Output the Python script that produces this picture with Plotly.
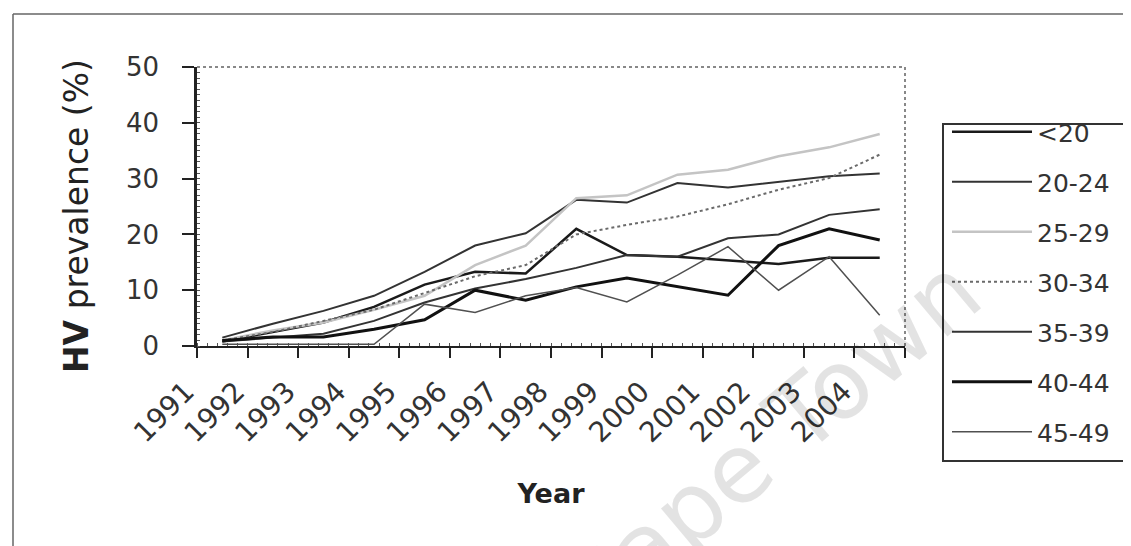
import plotly.graph_objects as go

years = ["1991", "1992", "1993", "1994", "1995", "1996", "1997",
         "1998", "1999", "2000", "2001", "2002", "2003", "2004"]

under20 = [0.8, 2.5, 4.2, 7.0, 11.0, 13.3, 13.0, 21.0, 16.3, 16.0, 15.3, 14.7, 15.8, 15.8]
age20_24 = [1.5, 4.0, 6.3, 9.0, 13.3, 18.0, 20.2, 26.2, 25.7, 29.2, 28.4, 29.4, 30.4, 30.9]
age25_29 = [1.0, 2.8, 4.2, 6.5, 9.0, 14.5, 18.0, 26.5, 27.0, 30.7, 31.6, 34.0, 35.6, 38.0]
age30_34 = [1.0, 2.5, 4.5, 6.5, 9.5, 12.5, 14.5, 20.0, 21.7, 23.2, 25.4, 28.0, 30.1, 34.3]
age35_39 = [0.8, 1.5, 2.2, 4.5, 7.8, 10.3, 12.0, 14.0, 16.3, 16.0, 19.3, 20.0, 23.5, 24.5]
age40_44 = [1.0, 1.6, 1.6, 3.0, 4.7, 10.0, 8.2, 10.6, 12.2, 10.6, 9.1, 18.0, 21.0, 19.0]
age45_49 = [0.3, 0.3, 0.3, 0.3, 7.5, 6.0, 9.0, 10.5, 7.9, 12.7, 17.8, 10.0, 16.0, 5.5]

series = [
    ("<20", under20, dict(color="#1a1a1a", width=2.5)),
    ("20-24", age20_24, dict(color="#333333", width=2)),
    ("25-29", age25_29, dict(color="#c4c4c4", width=2.5)),
    ("30-34", age30_34, dict(color="#6a6a6a", width=2, dash="dot")),
    ("35-39", age35_39, dict(color="#333333", width=2)),
    ("40-44", age40_44, dict(color="#111111", width=3)),
    ("45-49", age45_49, dict(color="#505050", width=1.5)),
]

xpos = [i + 0.5 for i in range(len(years))]

fig = go.Figure()
for i, (name, vals, line) in enumerate(series):
    fig.add_trace(go.Scatter(x=xpos, y=vals, mode="lines", name=name,
                             line=line, legendgroup=f"g{i}"))

FONT = "DejaVu Sans"
OFF = 8  # page body margin
W, H = 1131, 546
# plot area in screen pixels
SL, ST, SR, SB = 197, 67, 905, 346
L, T = SL - OFF, ST - OFF
R, B = W - (SR - OFF), H - (SB - OFF)
pw, ph = SR - SL, SB - ST


def px(x):  # screen x -> paper
    return (x - SL) / pw


def py(y):  # screen y -> paper
    return (SB - y) / ph


def cx(x):  # screen x -> container
    return (x - OFF) / W


def cy(y):  # screen y -> container
    return 1 - (y - OFF) / H


fig.update_layout(
    width=W, height=H,
    margin=dict(l=L, r=R, t=T, b=B, pad=0),
    paper_bgcolor="white", plot_bgcolor="white",
    font=dict(family=FONT, size=22, color="#222"),
    showlegend=True,
    legend=dict(xref="container", yref="container",
                x=cx(947), y=cy(109), xanchor="left", yanchor="top",
                itemwidth=80, traceorder="grouped", tracegroupgap=14.5,
                maxheight=1,
                font=dict(family=FONT, size=25, color="#333"),
                bgcolor="rgba(0,0,0,0)"),
    xaxis=dict(range=[0, len(years)], tickmode="array",
               tickvals=list(range(len(years) + 1)),
               ticktext=years + [""], tickangle=-45,
               ticks="outside", ticklen=10, tickwidth=2, tickcolor="#222",
               minor=dict(dtick=0.2, ticks="inside", ticklen=3, tickwidth=1,
                          tickcolor="#555", showgrid=False),
               showline=True, linecolor="#222", linewidth=2,
               showgrid=False, zeroline=False,
               ticklabelstandoff=6, ticklabelshift=-11,
               tickfont=dict(family=FONT, size=28, color="#333"),
               title=dict(text="<b>Year</b>", standoff=36,
                          font=dict(family=FONT, size=27, color="#222"))),
    yaxis=dict(range=[0, 50], dtick=10, ticks="outside", ticklen=12,
               tickwidth=2, tickcolor="#222",
               minor=dict(dtick=1, ticks="inside", ticklen=3, tickwidth=1,
                          tickcolor="#555", showgrid=False),
               showline=True, linecolor="#222", linewidth=2.5,
               showgrid=False, zeroline=False, ticklabelstandoff=18,
               tickfont=dict(family=FONT, size=26, color="#333")),
    shapes=[
        # dotted top and right borders of plot area
        dict(type="line", xref="paper", yref="paper", x0=0, x1=1, y0=1, y1=1,
             line=dict(color="#888", width=2, dash="dot")),
        dict(type="line", xref="paper", yref="paper", x0=1, x1=1, y0=0, y1=1,
             line=dict(color="#888", width=2, dash="dot")),
        # legend box (open to the right edge)
        dict(type="rect", xref="paper", yref="paper", x0=px(943), x1=px(1145),
             y0=py(461), y1=py(124), line=dict(color="#333", width=2)),
        # outer chart frame
        dict(type="line", xref="paper", yref="paper", x0=px(13), x1=px(1145),
             y0=py(14), y1=py(14), line=dict(color="#666", width=1.5)),
        dict(type="line", xref="paper", yref="paper", x0=px(13), x1=px(13),
             y0=py(14), y1=py(560), line=dict(color="#666", width=1.5)),
    ],
    annotations=[
        dict(text="<b>HV</b> prevalence (%)", xref="paper", yref="paper",
             x=px(76), y=py(216), xanchor="center", yanchor="middle",
             showarrow=False, textangle=-90,
             font=dict(family=FONT, size=33, color="#222")),
        dict(text="Cape Town", xref="paper", yref="paper",
             x=px(768), y=py(444), xanchor="center", yanchor="middle",
             showarrow=False, textangle=-40,
             font=dict(family=FONT, size=96, color="rgba(0,0,0,0.11)")),
    ],
)

fig.write_html("out.html")
